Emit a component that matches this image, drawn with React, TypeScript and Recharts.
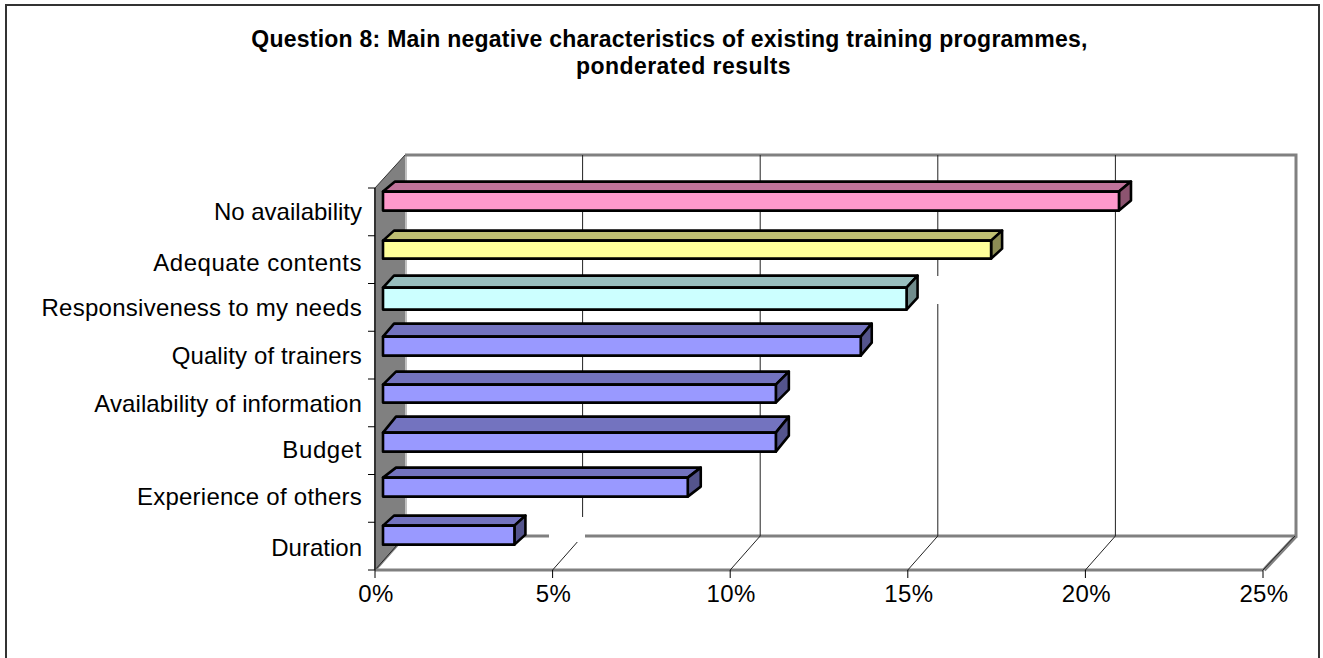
import { BarChart, Bar, XAxis, YAxis, ReferenceArea, ReferenceLine } from 'recharts';

const categories = [
  'No availability',
  'Adequate contents',
  'Responsiveness to my needs',
  'Quality of trainers',
  'Availability of information',
  'Budget',
  'Experience of others',
  'Duration',
];
const shares = [20.72, 17.12, 14.74, 13.45, 11.06, 11.06, 8.58, 3.7];
const xTicks = [0, 5, 10, 15, 20, 25];
const faceColors = ['#FF99CC', '#FFFF99', '#CCFFFF', '#9999FF', '#9999FF', '#9999FF', '#9999FF', '#9999FF'];
const topColors = ['#C0739A', '#BFBF73', '#99BFBF', '#7373BF', '#7373BF', '#7373BF', '#7373BF', '#7373BF'];
const sideColors = ['#8C5470', '#8C8C54', '#708C8C', '#54548C', '#54548C', '#54548C', '#54548C', '#54548C'];

const rows = categories.map((name, i) => ({
  name,
  share: shares[i],
  face: faceColors[i],
  top: topColors[i],
  side: sideColors[i],
}));

const FONT = '"Liberation Sans", Arial, sans-serif';
const DEPTH_X = 30;
const DEPTH_Y = 34;
const BAND = 47.75;
const WALL = '#808080';

// The bars are not perfectly regular, each row gets its own nudges
const faceShift = [-10.4, -9.1, -9.9, -8.6, -8.4, -8.1, -10.9, -10.6];
const faceGrow = [0, -1, 3, 0, -1, 0, 0, 0];
const depthUp = [10, 10, 12, 13, 13, 16, 10, 10];
const depthAcross = [12, 11, 11, 11, 13, 13, 13, 11];
const labelShift = [8, 11, 9, 9, 9, 7, 7, 10];
const labelSpacing = [0, 0.5, 0.27, 0.12, 0.1, 0.6, 0.25, 0];

// Box behind the bars: left wall, floor and back wall rim
function Frame({ x, y, width, height }: any) {
  const bottom = y + height;
  const right = x + width;
  return (
    <g fill="none">
      <polygon
        points={`${x},${y} ${x + DEPTH_X},${y - 33} ${x + DEPTH_X},${bottom - DEPTH_Y} ${x},${bottom}`}
        fill={WALL}
      />
      <line x1={x + DEPTH_X + 1} y1={y - 33} x2={x + DEPTH_X + 1} y2={bottom - DEPTH_Y} stroke="#C0C0C0" strokeWidth={2} />
      <path
        d={`M${x + DEPTH_X},${y - 33} H${right + 33} V${bottom - DEPTH_Y} H${x + DEPTH_X}`}
        stroke={WALL}
        strokeWidth={3}
      />
      <path d={`M${x},${y} L${x + DEPTH_X},${y - 33}`} stroke="#333" strokeWidth={1} />
      <path d={`M${x},${bottom} L${x + DEPTH_X},${bottom - DEPTH_Y}`} stroke={WALL} strokeWidth={3} />
      <path d={`M${x},${bottom} L${x + DEPTH_X},${bottom - DEPTH_Y}`} stroke="#222" strokeWidth={1} />
      <path d={`M${right + 1},${bottom} L${right + 33},${bottom - DEPTH_Y}`} stroke={WALL} strokeWidth={4} />
      <path d={`M${right},${bottom} L${right + 32},${bottom - DEPTH_Y}`} stroke="#222" strokeWidth={1} />
      <line x1={x} y1={bottom} x2={right} y2={bottom} stroke={WALL} strokeWidth={3} />
      <line x1={x} y1={y} x2={x} y2={bottom} stroke="#333" strokeWidth={2} />
    </g>
  );
}

// One gridline: up the floor diagonal, then up the back wall
function GridLeg({ x1, y1, y2 }: any) {
  const top = Math.min(y1, y2);
  const bottom = Math.max(y1, y2);
  return (
    <path
      d={`M${x1},${bottom} L${x1 + DEPTH_X},${bottom - DEPTH_Y} V${top - 33}`}
      fill="none"
      stroke="#222"
      strokeWidth={1}
    />
  );
}

// Blanked-out spots on the grid where data labels used to sit
function Blanks({ x, y, height }: any) {
  const bottom = y + height;
  return (
    <g fill="#fff">
      <rect x={x + 174} y={bottom - 53} width={36} height={25} />
      <rect x={x + 542} y={y + 88} width={28} height={28} />
    </g>
  );
}

function Bar3D({ x, y, width, height, payload, index }: any) {
  const left = x + 8;
  const front = y + faceShift[index];
  const tall = height + faceGrow[index];
  const right = left + width;
  const dx = depthAcross[index];
  const dy = depthUp[index];
  return (
    <g stroke="#000" strokeWidth={2.6} strokeLinejoin="round">
      <polygon
        points={`${left},${front} ${left + dx},${front - dy} ${right + dx},${front - dy} ${right},${front}`}
        fill={payload.top}
      />
      <polygon
        points={`${right},${front} ${right + dx},${front - dy} ${right + dx},${front + tall - dy} ${right},${front + tall}`}
        fill={payload.side}
      />
      <rect x={left} y={front} width={width} height={tall} fill={payload.face} />
    </g>
  );
}

function CategoryTick({ x, y, payload, index }: any) {
  return (
    <g>
      <line x1={x - 7} x2={x} y1={y - BAND / 2} y2={y - BAND / 2} stroke="#000" />
      {index === categories.length - 1 && (
        <line x1={x - 7} x2={x} y1={y + BAND / 2} y2={y + BAND / 2} stroke="#000" />
      )}
      <text
        x={x - 13}
        y={y + labelShift[index]}
        textAnchor="end"
        fontSize={24}
        letterSpacing={labelSpacing[index]}
        fontFamily={FONT}
        fill="#000"
      >
        {payload.value}
      </text>
    </g>
  );
}

function PercentTick({ x, y, payload }: any) {
  return (
    <text x={x + 1} y={y + 16} textAnchor="middle" fontSize={24} letterSpacing={0.4} fontFamily={FONT} fill="#000">
      {`${payload.value}%`}
    </text>
  );
}

const titleLine = {
  position: 'absolute',
  whiteSpace: 'nowrap',
  textAlign: 'center',
  fontFamily: FONT,
  fontWeight: 'bold',
  fontSize: 23,
  letterSpacing: 0.25,
  lineHeight: '27px',
  color: '#000',
} as const;

export default function App() {
  return (
    <div style={{ position: 'absolute', left: 0, top: 0, width: 1323, height: 658, overflow: 'hidden', background: '#fff' }}>
      <div
        style={{
          position: 'absolute',
          left: 5,
          top: 4,
          width: 1311,
          height: 700,
          border: '2px solid #333',
        }}
      />
      <div style={{ ...titleLine, left: 0, top: 26, width: 1339 }}>
        Question 8: Main negative characteristics of existing training programmes,
      </div>
      <div style={{ ...titleLine, left: 0, top: 53, width: 1367, letterSpacing: 0.45 }}>ponderated results</div>
      <BarChart
        width={1323}
        height={658}
        data={rows}
        layout="vertical"
        margin={{ top: 188, right: 60, left: 0, bottom: 48 }}
        style={{ position: 'absolute', left: 0, top: 0 }}
      >
        <XAxis
          type="number"
          domain={[0, 25]}
          ticks={xTicks}
          height={40}
          tick={PercentTick}
          tickLine={{ stroke: '#000' }}
          tickSize={8}
          tickMargin={8}
          axisLine={false}
        />
        <YAxis
          type="category"
          dataKey="name"
          width={375}
          axisLine={false}
          tickLine={false}
          tickSize={0}
          tickMargin={0}
          interval={0}
          tick={CategoryTick}
        />
        <ReferenceArea x1={0} x2={25} shape={Frame} ifOverflow="visible" zIndex={100} />
        {xTicks.slice(1, -1).map((v) => (
          <ReferenceLine key={v} x={v} shape={GridLeg} ifOverflow="visible" zIndex={101} />
        ))}
        <ReferenceArea x1={0} x2={25} shape={Blanks} ifOverflow="visible" zIndex={102} />
        <Bar dataKey="share" barSize={19} shape={Bar3D} isAnimationActive={false} />
      </BarChart>
    </div>
  );
}
